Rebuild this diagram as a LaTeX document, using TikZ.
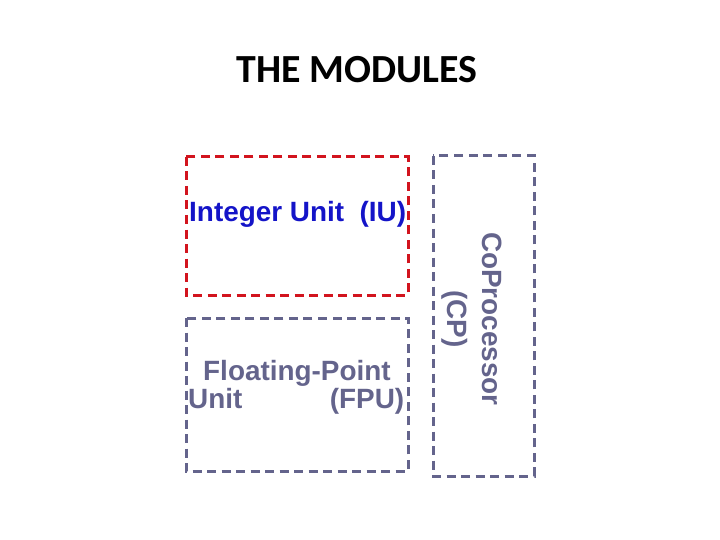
\documentclass[tikz,border=0pt]{standalone}
\usepackage{fontspec}
\setmainfont{Liberation Sans}
\newfontfamily\titlefont{Carlito}
\definecolor{iublue}{RGB}{20,20,200}
\definecolor{boxred}{RGB}{210,20,30}
\definecolor{boxgray}{RGB}{100,100,140}
\begin{document}
\begin{tikzpicture}[x=1bp,y=-1bp,
  modbox/.style={line width=3bp,dash pattern=on 9bp off 5.5bp},
  modtext/.style={font=\fontsize{28}{28}\selectfont\bfseries,inner sep=0pt}]
  \useasboundingbox (0,0) rectangle (720,540);
  \node[font=\titlefont\fontsize{40}{44}\selectfont\bfseries] (title) at (357,70) {THE MODULES};
  % the three modules
  \draw[modbox,boxred] (186,157) rectangle (408,295);
  \draw[modbox,boxgray] (186,318) rectangle (408,471);
  \draw[modbox,boxgray] (433,156) rectangle (534,476);
  \node[modtext,text=iublue,anchor=base west] (iu) at (189,222) {Integer Unit\ \ (IU)};
  \node[modtext,text=boxgray,align=justify,text width=216bp,anchor=north west] (fpu) at (188,360)
    {\hspace*{15bp}Floating-Point Unit\hfill(FPU)};
  \node[modtext,font=\fontsize{28}{35}\selectfont\bfseries,text=boxgray,align=center,rotate=-90] (cp) at (472,319) {CoProcessor\\(CP)};
\end{tikzpicture}
\end{document}
